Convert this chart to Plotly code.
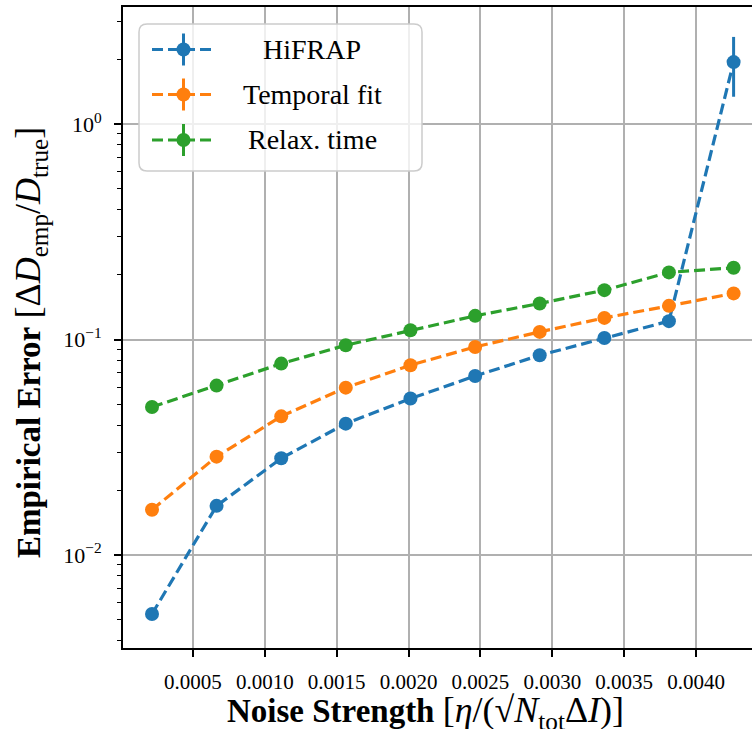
import plotly.graph_objects as go

# ---------------- data ----------------
noise = [0.000215, 0.000664, 0.001114, 0.001563, 0.002013,
         0.002463, 0.002912, 0.003362, 0.003811, 0.004261]

series_names = ["HiFRAP", "Temporal fit", "Relax. time"]
hifrap = [0.00532, 0.0169, 0.0281, 0.0407, 0.0532, 0.0677, 0.0845, 0.1017, 0.1217, 1.94]
hifrap_err = [0, 0, 0, 0, 0, 0, 0, 0, 0, 0.60]
temporal = [0.0162, 0.0286, 0.0440, 0.0598, 0.0760, 0.0924, 0.1085, 0.1260, 0.1433, 0.1637]
temporal_err = [0] * 10
relax = [0.0486, 0.0611, 0.0773, 0.0941, 0.1105, 0.1288, 0.1470, 0.1695, 0.2050, 0.2153]
relax_err = [0] * 10

x_ticks = [0.0005, 0.0010, 0.0015, 0.0020, 0.0025, 0.0030, 0.0035, 0.0040]
x_ticklabels = ["0.0005", "0.0010", "0.0015", "0.0020", "0.0025", "0.0030", "0.0035", "0.0040"]
y_ticks = [0.01, 0.1, 1]
y_ticklabels = ["10<sup>\u22122</sup>", "10<sup>\u22121</sup>", "10<sup>0</sup>"]
y_minor = [m * 10.0 ** k for k in range(-3, 1) for m in range(2, 10)]

colors = ["#1f77b4", "#ff7f0e", "#2ca02c"]
values = [hifrap, temporal, relax]
errors = [hifrap_err, temporal_err, relax_err]

W, H = 752, 729
ML, MR, MT, MB = 123, 0, 7, 81
PW, PH = W - ML - MR, H - MT - MB

def px(x):
    return (x - ML) / PW

def py(y):
    return (H - MB - y) / PH

SERIF = "Liberation Serif, Times New Roman, serif"
DASH = "11px,5px"

fig = go.Figure()
for name, vals, err, col in zip(series_names, values, errors, colors):
    fig.add_trace(go.Scatter(
        x=noise, y=vals, name=name, mode="lines+markers",
        line=dict(color=col, width=3.2, dash=DASH),
        marker=dict(color=col, size=14),
        error_y=dict(type="data", array=err, visible=True, color=col,
                     thickness=3, width=0),
        showlegend=False,
    ))

# ---------------- custom legend (centered text like the reference) ----------------
lx0, lx1, ly0, ly1, r = 139, 422, 24, 171, 8
path = (f"M {px(lx0 + r)} {py(ly0)} L {px(lx1 - r)} {py(ly0)} "
        f"Q {px(lx1)} {py(ly0)} {px(lx1)} {py(ly0 + r)} "
        f"L {px(lx1)} {py(ly1 - r)} Q {px(lx1)} {py(ly1)} {px(lx1 - r)} {py(ly1)} "
        f"L {px(lx0 + r)} {py(ly1)} Q {px(lx0)} {py(ly1)} {px(lx0)} {py(ly1 - r)} "
        f"L {px(lx0)} {py(ly0 + r)} Q {px(lx0)} {py(ly0)} {px(lx0 + r)} {py(ly0)} Z")
shapes = [dict(type="path", xref="paper", yref="paper", path=path,
               line=dict(color="rgba(204,204,204,1)", width=1.5),
               fillcolor="rgba(255,255,255,0.8)", layer="above")]
annotations = []
rows = [49.5, 94.5, 140]
for name, col, ry in zip(series_names, colors, rows):
    shapes.append(dict(type="line", xref="paper", yref="paper",
                       x0=px(152), x1=px(216), y0=py(ry), y1=py(ry),
                       line=dict(color=col, width=3.2, dash=DASH), layer="above"))
    shapes.append(dict(type="line", xref="paper", yref="paper",
                       x0=px(183.5), x1=px(183.5), y0=py(ry - 16), y1=py(ry + 16),
                       line=dict(color=col, width=3), layer="above"))
    shapes.append(dict(type="circle", xref="paper", yref="paper",
                       x0=px(176.5), x1=px(190.5), y0=py(ry - 7), y1=py(ry + 7),
                       fillcolor=col, line=dict(color=col, width=0), layer="above"))
    annotations.append(dict(xref="paper", yref="paper", x=px(312), y=py(ry),
                            xanchor="center", yanchor="middle", showarrow=False,
                            text=name, font=dict(family=SERIF, size=28, color="black")))

# axis titles
annotations.append(dict(
    xref="paper", yref="paper", x=px(425), y=py(712), xanchor="center", yanchor="middle",
    showarrow=False,
    text=("<b>Noise Strength</b> <span style='font-size:36px'>[<i>\u03b7</i>/(\u221a<i>N</i>"
          "<sub>tot</sub>\u0394<i>I</i>)]</span>"),
    font=dict(family=SERIF, size=33, color="black")))
annotations.append(dict(
    xref="paper", yref="paper", x=px(30), y=py(343), xanchor="center", yanchor="middle",
    showarrow=False, textangle=-90,
    text=("<b>Empirical Error</b> <span style='font-size:36px'>[\u0394<i>D</i><sub>emp</sub>"
          "/<i>D</i><sub>true</sub>]</span>"),
    font=dict(family=SERIF, size=33, color="black")))

fig.update_layout(
    width=W, height=H,
    margin=dict(l=ML, r=MR, t=MT, b=MB, pad=0),
    paper_bgcolor="white", plot_bgcolor="white",
    shapes=shapes, annotations=annotations,
    showlegend=False,
    xaxis=dict(
        range=[0.0000132, 0.004389],
        tickvals=x_ticks, ticktext=x_ticklabels,
        ticks="outside", ticklen=7, tickwidth=1.5, tickcolor="black",
        showline=True, linewidth=2, linecolor="black", mirror=True,
        showgrid=True, gridcolor="#b0b0b0", gridwidth=1.5,
        zeroline=False,
        tickfont=dict(family=SERIF, size=21, color="black"),
        ticklabelstandoff=7,
    ),
    yaxis=dict(
        type="log", range=[-2.432, 0.5437],
        tickvals=y_ticks, ticktext=y_ticklabels,
        ticks="outside", ticklen=7, tickwidth=1.5, tickcolor="black",
        showline=True, linewidth=2, linecolor="black", mirror=False,
        showgrid=True, gridcolor="#b0b0b0", gridwidth=1.5,
        zeroline=False,
        tickfont=dict(family=SERIF, size=22, color="black"),
        ticklabelstandoff=8,
        minor=dict(tickvals=y_minor, ticks="outside", ticklen=4, tickwidth=1.2,
                   tickcolor="black", showgrid=False),
    ),
)

fig.write_html("out.html", config={"displayModeBar": False})
